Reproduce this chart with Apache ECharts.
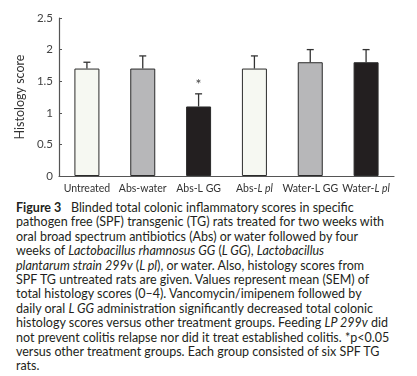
<!DOCTYPE html>
<html>
<head>
<meta charset="utf-8">
<script src="https://cdn.jsdelivr.net/npm/echarts@6/dist/echarts.min.js"></script>
<style>
  html, body { margin: 0; padding: 0; background: #fff; }
  #wrap { position: relative; width: 417px; height: 376px; overflow: hidden; }
  #chart { position: absolute; left: 0; top: 0; width: 417px; height: 200px; }
  #caption {
    position: absolute; left: 16px; top: 201px; width: 400px;
    font-family: Lato, "Open Sans", sans-serif; font-size: 12.5px; line-height: 14.4px;
    color: #231f20; white-space: nowrap;
  }
  #caption b { font-weight: 700; }
</style>
</head>
<body>
<div id="wrap">
  <div id="chart"></div>
  <div id="caption">
    <div><b>Figure 3</b>&nbsp;&nbsp; Blinded total colonic inflammatory scores in specific</div>
    <div>pathogen free (SPF) transgenic (TG) rats treated for two weeks with</div>
    <div>oral broad spectrum antibiotics (Abs) or water followed by four</div>
    <div>weeks of <i>Lactobacillus rhamnosus GG</i> (<i>L GG</i>), <i>Lactobacillus</i></div>
    <div><i>plantarum strain 299v</i> (<i>L pl</i>), or water. Also, histology scores from</div>
    <div>SPF TG untreated rats are given. Values represent mean (SEM) of</div>
    <div>total histology scores (0–4). Vancomycin/imipenem followed by</div>
    <div>daily oral <i>L GG</i> administration significantly decreased total colonic</div>
    <div>histology scores versus other treatment groups. Feeding <i>LP 299v</i> did</div>
    <div>not prevent colitis relapse nor did it treat established colitis. *p&lt;0.05</div>
    <div>versus other treatment groups. Each group consisted of six SPF TG</div>
    <div>rats.</div>
  </div>
</div>
<script>
// group labels, mean score and SEM
const groups = ['Untreated', 'Abs-water', 'Abs-L GG', 'Abs-L pl', 'Water-L GG', 'Water-L pl']
const meanScore = [1.7, 1.7, 1.1, 1.7, 1.8, 1.8]
const semScore = [0.1, 0.2, 0.2, 0.2, 0.2, 0.2]
const significance = ['', '', '*', '', '', '']
const yTicks = [0, 0.5, 1, 1.5, 2, 2.5]

const barColors = ['#f6f8f2', '#b7b7b9', '#231f20', '#f6f8f2', '#b7b7b9', '#231f20']

let myCharts = echarts.init(document.getElementById('chart'))

function xLabel (val) {
    // "pl" groups have the strain name set in italics
    let parts = val.split('-')
    if (/pl$/.test(val)) return `{n|${parts[0]}-}{i|${parts[1]}}`
    return `{n|${val}}`
}

let errData = meanScore.map((m, i) => [i, m, m + semScore[i], significance[i]])

myCharts.setOption({
    animation: false,
    grid: { left: 59, right: 23, top: 18, bottom: 24 },
    xAxis: {
        type: 'category',
        data: groups,
        boundaryGap: true,
        axisLine: { lineStyle: { color: '#555', width: 1.2 } },
        axisTick: { inside: true, length: 4, lineStyle: { color: '#555' } },
        axisLabel: {
            margin: 7,
            interval: 0,
            formatter: xLabel,
            rich: {
                n: { fontFamily: 'Lato, sans-serif', fontSize: 10.5, color: '#333' },
                i: { fontFamily: 'Lato, sans-serif', fontSize: 10.5, color: '#333', fontStyle: 'italic' }
            }
        }
    },
    yAxis: {
        type: 'value',
        min: yTicks[0],
        max: yTicks[yTicks.length - 1],
        interval: 0.5,
        name: 'Histology score',
        nameLocation: 'middle',
        nameGap: 28,
        nameTextStyle: { fontFamily: 'Lato, sans-serif', fontSize: 12.5, color: '#333' },
        axisLine: { show: true, lineStyle: { color: '#555', width: 1.2 } },
        axisTick: { show: true, inside: true, length: 3, lineStyle: { color: '#555' } },
        splitLine: { show: false },
        axisLabel: { margin: 6, fontFamily: 'Lato, sans-serif', fontSize: 11.5, color: '#444' }
    },
    series: [
        {
            type: 'bar',
            barWidth: 25,
            data: meanScore.map((v, i) => ({
                value: v,
                itemStyle: { color: barColors[i], borderColor: '#2b2b2b', borderWidth: 1 }
            }))
        },
        {
            type: 'custom',
            data: errData,
            encode: { x: 0, y: [1, 2] },
            z: 3,
            renderItem: function (params, api) {
                let x = api.value(0)
                let base = api.coord([x, api.value(1)])
                let top = api.coord([x, api.value(2)])
                let half = 3.5
                let stroke = { stroke: '#333', lineWidth: 1.3 }
                let children = [
                    { type: 'line', shape: { x1: base[0], y1: base[1], x2: top[0], y2: top[1] }, style: stroke },
                    { type: 'line', shape: { x1: top[0] - half, y1: top[1], x2: top[0] + half, y2: top[1] }, style: stroke }
                ]
                let mark = significance[params.dataIndex]
                if (mark) {
                    children.push({
                        type: 'text',
                        style: {
                            text: mark, x: top[0], y: top[1] - 9,
                            align: 'center', verticalAlign: 'middle',
                            fontFamily: 'Lato, sans-serif', fontSize: 14, fill: '#444'
                        }
                    })
                }
                return { type: 'group', children: children }
            }
        }
    ]
})
</script>
</body>
</html>
